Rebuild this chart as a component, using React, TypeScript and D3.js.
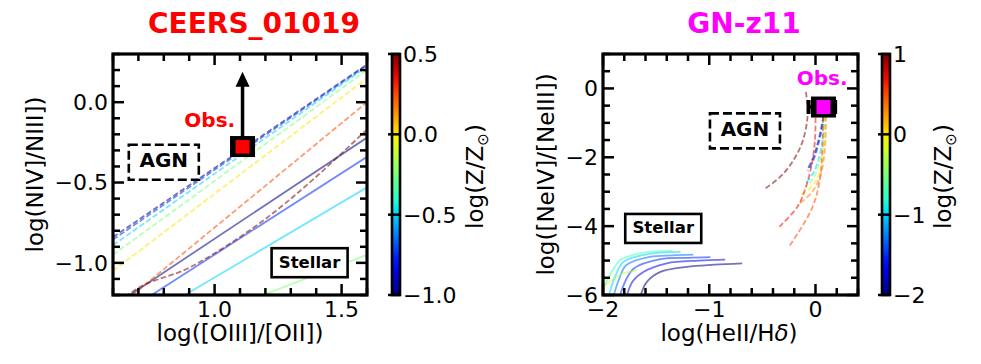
import React from 'react';
import * as d3 from 'd3';

const FONT = '"DejaVu Sans", sans-serif';

type Pt = [number, number];

// ---------------- Left panel (CEERS_01019) ----------------
const leftTitle = 'CEERS_01019';
const leftXDomain: Pt = [0.6, 1.6];
const leftYDomain: Pt = [-1.2, 0.3];
const leftZDomain: Pt = [-1.0, 0.5];
const leftXMajor = [1.0, 1.5];
const leftYMajor = [0.0, -0.5, -1.0];
const leftZTicks = [0.5, 0.0, -0.5, -1.0];
const leftAgnZ = [-1.0, -0.75, -0.5, -0.25, 0.0, 0.25, 0.5];
const leftAgnLines: Pt[][] = [
  [[0.6, -0.84], [1.6, 0.235]],
  [[0.6, -0.855], [1.6, 0.23]],
  [[0.6, -0.89], [1.6, 0.222]],
  [[0.6, -0.95], [1.6, 0.2]],
  [[0.6, -1.05], [1.6, 0.15]],
  [[0.6, -1.3], [1.6, 0.0]],
  [[0.6, -1.28], [0.667, -1.19], [0.9, -1.03], [1.18, -0.75], [1.6, -0.17]],
];
const leftStarZ = [-1.0, -0.75, -0.5, -0.25];
const leftStarLines: Pt[][] = [
  [[0.6, -1.27], [1.6, -0.22]],
  [[0.7, -1.253], [1.6, -0.34]],
  [[0.82, -1.259], [1.6, -0.53]],
  [[1.1, -1.256], [1.6, -0.95]],
];
const leftObs: Pt = [1.11, -0.276];
const leftObsArrowTop = 0.19;
const leftAgnLabel: Pt = [0.8, -0.374];
const leftStellarLabel: Pt = [1.374, -0.999];
const leftObsLabel: Pt = [1.081, -0.153];

// ---------------- Right panel (GN-z11) ----------------
const rightTitle = 'GN-z11';
const rightXDomain: Pt = [-2.0, 0.4];
const rightYDomain: Pt = [-6.0, 1.0];
const rightZDomain: Pt = [-2.0, 1.0];
const rightXMajor = [-2, -1, 0];
const rightYMajor = [0, -2, -4, -6];
const rightZTicks = [1, 0, -1, -2];
const rightAgnZ = [-2.0, -1.5, -1.0, -0.5, 0.0, 0.3, 0.5, 0.7, 1.0];
const rightAgnLines: Pt[][] = [
  [[0.075, -0.8], [0.05, -1.2], [0.02, -1.6], [-0.02, -2.0], [-0.08, -2.38]],
  [[0.08, -0.8], [0.055, -1.25], [0.025, -1.65], [-0.015, -2.05], [-0.07, -2.4]],
  [[0.085, -0.8], [0.07, -1.4], [0.035, -2.0], [-0.02, -2.45], [-0.09, -2.75]],
  [[0.09, -0.8], [0.075, -1.5], [0.04, -2.15], [-0.02, -2.6], [-0.1, -2.9]],
  [[0.095, -0.8], [0.085, -1.6], [0.05, -2.3], [-0.02, -2.8], [-0.14, -3.1]],
  [[0.1, -0.8], [0.09, -1.7], [0.05, -2.5], [-0.03, -3.0], [-0.17, -3.4]],
  [[0.07, -0.85], [0.065, -1.8], [0.035, -2.76], [-0.04, -3.53], [-0.25, -4.6]],
  [[0.0, -0.85], [-0.005, -1.5], [-0.04, -2.28], [-0.1, -2.95], [-0.17, -3.44], [-0.34, -4.02]],
  [[-0.09, -0.1], [-0.075, -0.82], [-0.14, -1.69], [-0.3, -2.47], [-0.47, -2.9]],
];
const rightStarZ = [-2.0, -1.7, -1.5, -1.3, -1.0, -0.7, -0.3];
const rightStarLines: Pt[][] = [
  [[-1.65, -6.05], [-1.587, -5.62], [-1.46, -5.33], [-1.21, -5.18], [-0.95, -5.12], [-0.69, -5.08]],
  [[-1.776, -6.02], [-1.72, -5.6], [-1.62, -5.33], [-1.4, -5.08], [-1.1, -5.0], [-0.85, -4.97]],
  [[-1.84, -6.02], [-1.79, -5.6], [-1.71, -5.23], [-1.46, -4.96], [-1.2, -4.92], [-0.99, -4.9]],
  [[-1.9, -6.02], [-1.85, -5.55], [-1.78, -5.13], [-1.56, -4.89], [-1.35, -4.85], [-1.15, -4.83]],
  [[-1.94, -5.95], [-1.89, -5.5], [-1.81, -5.04], [-1.59, -4.82], [-1.27, -4.75]],
  [[-2.0, -5.81], [-1.93, -5.4], [-1.84, -4.99], [-1.65, -4.79], [-1.35, -4.72]],
  [[-2.0, -5.76], [-1.84, -5.42], [-1.68, -5.28]],
];
const rightObs: Pt = [0.075, -0.54];
const rightObsXErr: Pt = [0.14, 0.11];
const rightAgnLabel: Pt = [-0.664, -1.233];
const rightStellarLabel: Pt = [-1.433, -4.067];
const rightObsLabel: Pt = [0.063, 0.099];

// ---------------- helpers ----------------
const jetR = d3.scaleLinear().domain([0, 0.35, 0.66, 0.89, 1]).range([0, 0, 1, 1, 0.5]).clamp(true);
const jetG = d3.scaleLinear().domain([0, 0.125, 0.375, 0.64, 0.91, 1]).range([0, 0, 1, 1, 0, 0]).clamp(true);
const jetB = d3.scaleLinear().domain([0, 0.11, 0.34, 0.65, 1]).range([0.5, 1, 1, 0, 0]).clamp(true);
function jet(t: number): string {
  return d3.rgb(jetR(t) * 255, jetG(t) * 255, jetB(t) * 255).formatHex();
}

function stepRange(dom: Pt, step: number): number[] {
  const n = Math.round((dom[1] - dom[0]) / step);
  return d3.range(n + 1).map((i) => dom[0] + i * step);
}

interface PanelProps {
  id: string;
  box: { x0: number; x1: number; y0: number; y1: number };
  cbar: { x: number; w: number };
  title: string;
  titleColor: string;
  titleX: number;
  xDom: Pt; yDom: Pt; zDom: Pt;
  xMajor: number[]; yMajor: number[]; zTicks: number[];
  xMinor: number; yMinor: number;
  fmt: (v: number) => string;
  zFmt: (v: number) => string;
  agnZ: number[]; agnLines: Pt[][];
  starZ: number[]; starLines: Pt[][];
  curve: d3.CurveFactory;
  xLabel: React.ReactNode; xLabelX: number;
  yLabel: string; yLabelX: number;
  cbLabelX: number;
  agnLabel: Pt; stellarLabel: Pt; obsLabel: Pt; obsAnchor: 'end' | 'middle';
  obsColor: string;
  children?: (x: d3.ScaleLinear<number, number>, y: d3.ScaleLinear<number, number>) => React.ReactNode;
}

function Panel(p: PanelProps) {
  const { box } = p;
  const x = d3.scaleLinear().domain(p.xDom).range([box.x0, box.x1]);
  const y = d3.scaleLinear().domain(p.yDom).range([box.y1, box.y0]);
  const zc = d3.scaleLinear().domain(p.zDom).range([0, 1]);
  const zy = d3.scaleLinear().domain(p.zDom).range([box.y1, box.y0]);
  const line = d3.line<Pt>().x((d) => x(d[0])).y((d) => y(d[1])).curve(p.curve);
  const majLen = 11, minLen = 7, tw = 2.5;
  const xMin = stepRange(p.xDom, p.xMinor);
  const yMin = stepRange(p.yDom, p.yMinor);
  const isMajor = (v: number, arr: number[]) => arr.some((a) => Math.abs(a - v) < 1e-6);
  const gradId = p.id + '-grad';
  const clipId = p.id + '-clip';
  const stops = d3.range(21).map((i) => i / 20);
  const textCommon = { fontFamily: FONT, fill: '#000' };

  return (
    <g>
      <defs>
        <clipPath id={clipId}>
          <rect x={box.x0} y={box.y0} width={box.x1 - box.x0} height={box.y1 - box.y0} />
        </clipPath>
        <linearGradient id={gradId} x1="0" y1="1" x2="0" y2="0">
          {stops.map((t) => (
            <stop key={t} offset={t} stopColor={jet(t)} />
          ))}
        </linearGradient>
      </defs>
      {/* title */}
      <text x={p.titleX} y={33} textAnchor="middle" fontSize={28} fontWeight="bold" fontFamily={FONT} fill={p.titleColor}>
        {p.title}
      </text>
      {/* model lines */}
      <g clipPath={`url(#${clipId})`} fill="none">
        {p.starLines.map((pts, i) => (
          <path key={'s' + i} d={line(pts) || ''} stroke={jet(zc(p.starZ[i]))} strokeOpacity={0.55} strokeWidth={1.8} />
        ))}
        {p.agnLines.map((pts, i) => (
          <path key={'a' + i} d={line(pts) || ''} stroke={jet(zc(p.agnZ[i]))} strokeOpacity={0.55} strokeWidth={1.8} strokeDasharray="5.5,2.6" />
        ))}
      </g>
      {/* annotation boxes */}
      <rect x={x(p.agnLabel[0]) - 35} y={y(p.agnLabel[1]) - 17.5} width={70} height={35} fill="none" stroke="#000" strokeWidth={2.6} strokeDasharray="9,4" />
      <text x={x(p.agnLabel[0])} y={y(p.agnLabel[1]) + 5} textAnchor="middle" fontSize={20} fontWeight="bold" {...textCommon}>AGN</text>
      <rect x={x(p.stellarLabel[0]) - 38} y={y(p.stellarLabel[1]) - 14.5} width={76} height={29} fill="#fff" stroke="#000" strokeWidth={2.6} />
      <text x={x(p.stellarLabel[0])} y={y(p.stellarLabel[1]) + 5} textAnchor="middle" fontSize={16.5} fontWeight="bold" {...textCommon}>Stellar</text>
      {/* observation */}
      {p.children && p.children(x, y)}
      <text x={x(p.obsLabel[0])} y={y(p.obsLabel[1])} textAnchor={p.obsAnchor} fontSize={20} fontWeight="bold" fontFamily={FONT} fill={p.obsColor}>Obs.</text>
      {/* ticks */}
      <g stroke="#000" strokeWidth={tw}>
        {xMin.map((v, i) => {
          const L = isMajor(v, p.xMajor) ? majLen : minLen;
          return (
            <g key={'xt' + i}>
              <line x1={x(v)} x2={x(v)} y1={box.y1} y2={box.y1 - L} />
              <line x1={x(v)} x2={x(v)} y1={box.y0} y2={box.y0 + L} />
            </g>
          );
        })}
        {yMin.map((v, i) => {
          const L = isMajor(v, p.yMajor) ? majLen : minLen;
          return (
            <g key={'yt' + i}>
              <line x1={box.x0} x2={box.x0 + L} y1={y(v)} y2={y(v)} />
              <line x1={box.x1} x2={box.x1 - L} y1={y(v)} y2={y(v)} />
            </g>
          );
        })}
      </g>
      <rect x={box.x0} y={box.y0} width={box.x1 - box.x0} height={box.y1 - box.y0} fill="none" stroke="#000" strokeWidth={3.2} />
      {/* tick labels */}
      {p.xMajor.map((v) => (
        <text key={'xl' + v} x={x(v)} y={317} textAnchor="middle" fontSize={22} {...textCommon}>{p.fmt(v)}</text>
      ))}
      {p.yMajor.map((v) => (
        <text key={'yl' + v} x={box.x0 - 5} y={y(v)} dy="0.36em" textAnchor="end" fontSize={22} {...textCommon}>{p.fmt(v)}</text>
      ))}
      {/* axis labels */}
      <text x={p.xLabelX} y={341} textAnchor="middle" fontSize={23} {...textCommon}>{p.xLabel}</text>
      <text transform={`translate(${p.yLabelX},${(box.y0 + box.y1) / 2}) rotate(-90)`} textAnchor="middle" fontSize={23} {...textCommon}>{p.yLabel}</text>
      {/* colorbar */}
      <rect x={p.cbar.x} y={box.y0} width={p.cbar.w} height={box.y1 - box.y0} fill={`url(#${gradId})`} stroke="#000" strokeWidth={2.6} />
      <g stroke="#000" strokeWidth={tw}>
        {p.zTicks.map((v) => (
          <line key={'zt' + v} x1={p.cbar.x + p.cbar.w} x2={p.cbar.x + p.cbar.w - 12} y1={zy(v)} y2={zy(v)} />
        ))}
      </g>
      {p.zTicks.map((v) => (
        <text key={'zl' + v} x={p.cbar.x + p.cbar.w + 3} y={zy(v)} dy="0.36em" fontSize={22} {...textCommon}>{p.zFmt(v)}</text>
      ))}
      <text transform={`translate(${p.cbLabelX},${(box.y0 + box.y1) / 2 + 2}) rotate(-90)`} textAnchor="middle" fontSize={23} {...textCommon}>
        <tspan>log(Z/Z</tspan>
        <tspan fontSize={15} dy={5}>⊙</tspan>
        <tspan dy={-5}>)</tspan>
      </text>
    </g>
  );
}

export default function App() {
  const f1 = d3.format('.1f');
  const f0 = d3.format('d');
  return (
    <svg width={981} height={364} style={{ position: 'fixed', left: 0, top: 0, background: '#fff' }}>
      <rect x={0} y={0} width={981} height={364} fill="#fff" />
      <Panel
        id="left"
        box={{ x0: 113, x1: 367, y0: 54, y1: 295 }}
        cbar={{ x: 392, w: 8 }}
        title={leftTitle}
        titleColor="#ff0000"
        titleX={254}
        xDom={leftXDomain} yDom={leftYDomain} zDom={leftZDomain}
        xMajor={leftXMajor} yMajor={leftYMajor} zTicks={leftZTicks}
        xMinor={0.1} yMinor={0.1}
        fmt={f1} zFmt={f1}
        agnZ={leftAgnZ} agnLines={leftAgnLines}
        starZ={leftStarZ} starLines={leftStarLines}
        curve={d3.curveMonotoneX}
        xLabel="log([OIII]/[OII])" xLabelX={240}
        yLabel="log(NIV]/NIII])" yLabelX={43}
        cbLabelX={483}
        agnLabel={leftAgnLabel} stellarLabel={leftStellarLabel} obsLabel={leftObsLabel} obsAnchor="end"
        obsColor="#ff0000"
      >
        {(x, y) => {
          const cx = x(leftObs[0]);
          const cy = y(leftObs[1]);
          const tip = y(leftObsArrowTop);
          return (
            <g>
              <line x1={cx} x2={cx} y1={cy} y2={tip + 14} stroke="#000" strokeWidth={3.5} />
              <path d={`M${cx},${tip} L${cx - 7},${tip + 15} L${cx + 7},${tip + 15} Z`} fill="#000" />
              <rect x={cx - 12.5} y={cy - 10.5} width={25} height={21} fill="#000" />
              <rect x={cx - 7} y={cy - 6.5} width={14} height={13.5} fill="#ff0000" />
            </g>
          );
        }}
      </Panel>
      <Panel
        id="right"
        box={{ x0: 603, x1: 858, y0: 54, y1: 295 }}
        cbar={{ x: 882, w: 8 }}
        title={rightTitle}
        titleColor="#ff00ff"
        titleX={744}
        xDom={rightXDomain} yDom={rightYDomain} zDom={rightZDomain}
        xMajor={rightXMajor} yMajor={rightYMajor} zTicks={rightZTicks}
        xMinor={0.2} yMinor={0.5}
        fmt={f0} zFmt={f0}
        agnZ={rightAgnZ} agnLines={rightAgnLines}
        starZ={rightStarZ} starLines={rightStarLines}
        curve={d3.curveCatmullRom}
        xLabel={<>
          <tspan>log(HeII/H</tspan>
          <tspan fontStyle="italic">δ</tspan>
          <tspan>)</tspan>
        </>}
        xLabelX={729}
        yLabel="log([NeIV]/[NeIII])" yLabelX={554}
        cbLabelX={951}
        agnLabel={rightAgnLabel} stellarLabel={rightStellarLabel} obsLabel={rightObsLabel} obsAnchor="middle"
        obsColor="#ff00ff"
      >
        {(x, y) => {
          const cx = x(rightObs[0]);
          const cy = y(rightObs[1]);
          const xl = x(rightObs[0] - rightObsXErr[0]);
          const xr = x(rightObs[0] + rightObsXErr[1]);
          return (
            <g>
              <line x1={xl} x2={xr} y1={cy} y2={cy} stroke="#000" strokeWidth={3.5} />
              <line x1={xl} x2={xl} y1={cy - 7} y2={cy + 7} stroke="#000" strokeWidth={4} />
              <line x1={xr} x2={xr} y1={cy - 7} y2={cy + 7} stroke="#000" strokeWidth={4} />
              <rect x={cx - 12.5} y={cy - 10.5} width={25} height={21} fill="#000" />
              <rect x={cx - 7} y={cy - 7} width={14} height={14} fill="#ff00ff" />
            </g>
          );
        }}
      </Panel>
    </svg>
  );
}
